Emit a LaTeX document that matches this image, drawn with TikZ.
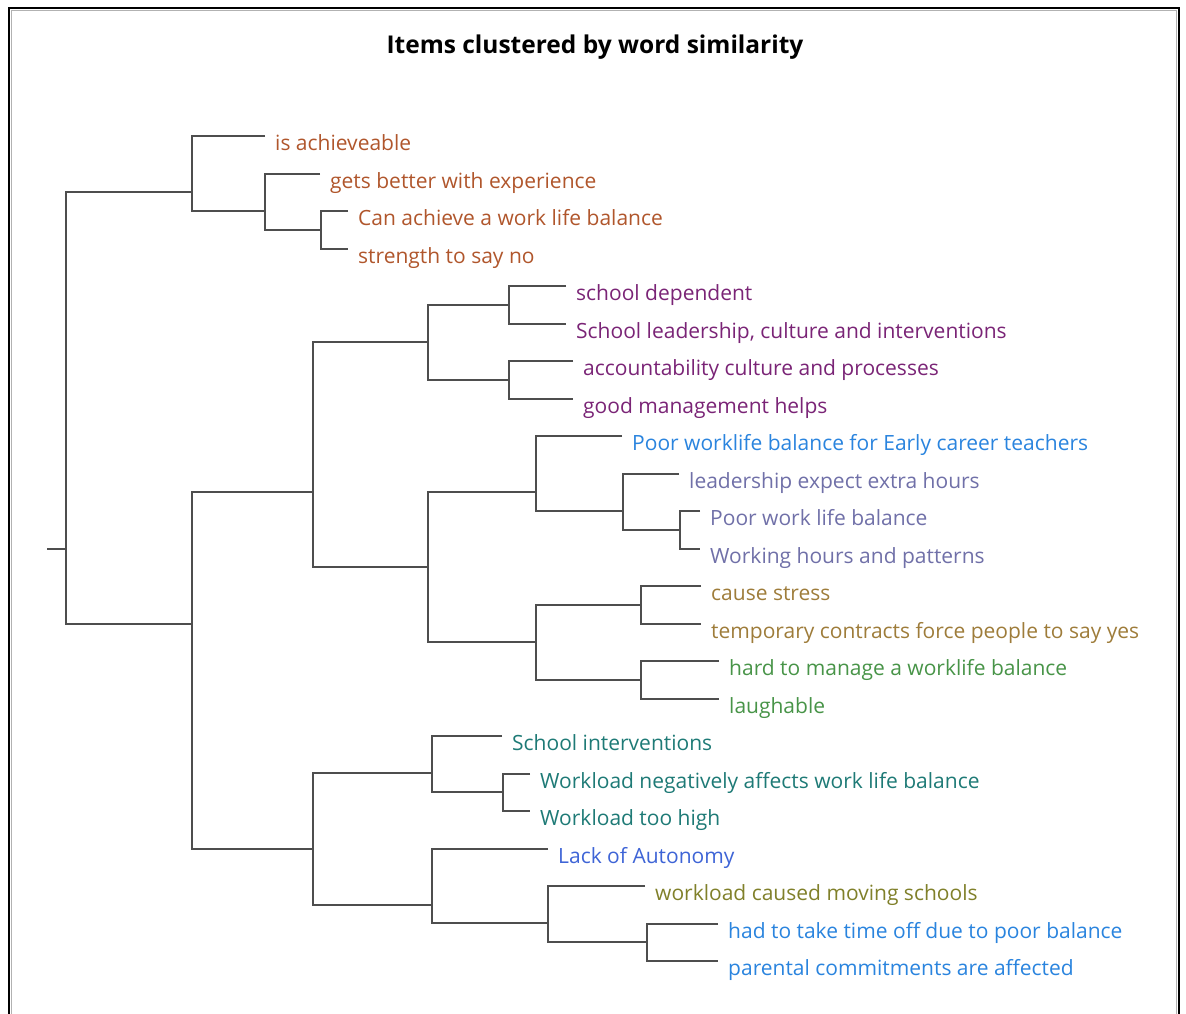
\documentclass[tikz,border=0pt]{standalone}
\usepackage{fontspec}
\setmainfont{Open Sans}
\definecolor{linegray}{RGB}{78,78,78}
\definecolor{cOrange}{RGB}{176,86,44}
\definecolor{cPurple}{RGB}{122,36,118}
\definecolor{cBlue}{RGB}{42,132,222}
\definecolor{cSlate}{RGB}{112,112,168}
\definecolor{cGold}{RGB}{158,124,58}
\definecolor{cGreen}{RGB}{72,148,72}
\definecolor{cTeal}{RGB}{30,122,118}
\definecolor{cRoyal}{RGB}{62,100,214}
\definecolor{cOlive}{RGB}{128,128,42}
\tikzset{
  branch/.style={draw=linegray,line width=2.9pt},
  leaftext/.style={anchor=base west,inner sep=0pt,font=\fontsize{21}{24}\selectfont,xshift=10pt,yshift=-14.8pt},
  titletext/.style={inner sep=0pt,font=\fontsize{24.5}{28}\selectfont\bfseries}
}
\begin{document}
\begin{tikzpicture}[x=1pt,y=-1pt]
\useasboundingbox (0,0) rectangle (1186,1014);
% frame
\draw[line width=2pt,black] (9,1014) -- (9,8) -- (1179,8) -- (1179,1014);
\draw[line width=1.2pt,black!30] (11.3,1014) -- (11.3,10.3) -- (1176.7,10.3) -- (1176.7,1014);
% title
\node[titletext] (title) at (595,47) {Items clustered by word similarity};
% leaf end coordinates
\coordinate (l1) at (265,136);
\coordinate (l2) at (320,174);
\coordinate (l3) at (348,211);
\coordinate (l4) at (348,249);
\coordinate (l5) at (566,286);
\coordinate (l6) at (566,324);
\coordinate (l7) at (573,361);
\coordinate (l8) at (573,399);
\coordinate (l9) at (622,436);
\coordinate (l10) at (679,474);
\coordinate (l11) at (700,511);
\coordinate (l12) at (700,549);
\coordinate (l13) at (701,586);
\coordinate (l14) at (701,624);
\coordinate (l15) at (719,661);
\coordinate (l16) at (719,699);
\coordinate (l17) at (502,736);
\coordinate (l18) at (530,774);
\coordinate (l19) at (530,811);
\coordinate (l20) at (548,849);
\coordinate (l21) at (645,886);
\coordinate (l22) at (718,924);
\coordinate (l23) at (718,961);
% internal nodes
\coordinate (n34) at (321,230);
\coordinate (nB) at (265,211);
\coordinate (nA) at (192,192);
\coordinate (n56) at (509,305);
\coordinate (n78) at (509,380);
\coordinate (n58) at (428,342);
\coordinate (n1112) at (680,530);
\coordinate (nG) at (623,511);
\coordinate (nF) at (536,492);
\coordinate (n1314) at (641,605);
\coordinate (n1516) at (641,680);
\coordinate (n1316) at (536,642);
\coordinate (nE) at (428,567);
\coordinate (nD) at (313,492);
\coordinate (n1819) at (503,792);
\coordinate (n1719) at (432,773);
\coordinate (n2223) at (647,942);
\coordinate (n2123) at (548,923);
\coordinate (n2023) at (432,905);
\coordinate (nI) at (313,849);
\coordinate (nC) at (192,624);
\coordinate (root) at (66,549);
\coordinate (stub) at (47,549);
% branches
\draw[branch] (l3) -| (n34) |- (l4);
\draw[branch] (l2) -| (nB) |- (n34);
\draw[branch] (l1) -| (nA) |- (nB);
\draw[branch] (l5) -| (n56) |- (l6);
\draw[branch] (l7) -| (n78) |- (l8);
\draw[branch] (n56) -| (n58) |- (n78);
\draw[branch] (l11) -| (n1112) |- (l12);
\draw[branch] (l10) -| (nG) |- (n1112);
\draw[branch] (l9) -| (nF) |- (nG);
\draw[branch] (l13) -| (n1314) |- (l14);
\draw[branch] (l15) -| (n1516) |- (l16);
\draw[branch] (n1314) -| (n1316) |- (n1516);
\draw[branch] (nF) -| (nE) |- (n1316);
\draw[branch] (n58) -| (nD) |- (nE);
\draw[branch] (l18) -| (n1819) |- (l19);
\draw[branch] (l17) -| (n1719) |- (n1819);
\draw[branch] (l22) -| (n2223) |- (l23);
\draw[branch] (l21) -| (n2123) |- (n2223);
\draw[branch] (l20) -| (n2023) |- (n2123);
\draw[branch] (n1719) -| (nI) |- (n2023);
\draw[branch] (nD) -| (nC) |- (nI);
\draw[branch] (nA) -| (root) |- (nC);
\draw[branch] (stub) -- (root);
% labels
\node[leaftext,text=cOrange] (t1) at (l1) {is achieveable};
\node[leaftext,text=cOrange] (t2) at (l2) {gets better with experience};
\node[leaftext,text=cOrange] (t3) at (l3) {Can achieve a work life balance};
\node[leaftext,text=cOrange] (t4) at (l4) {strength to say no};
\node[leaftext,text=cPurple] (t5) at (l5) {school dependent};
\node[leaftext,text=cPurple] (t6) at (l6) {School leadership, culture and interventions};
\node[leaftext,text=cPurple] (t7) at (l7) {accountability culture and processes};
\node[leaftext,text=cPurple] (t8) at (l8) {good management helps};
\node[leaftext,text=cBlue] (t9) at (l9) {Poor worklife balance for Early career teachers};
\node[leaftext,text=cSlate] (t10) at (l10) {leadership expect extra hours};
\node[leaftext,text=cSlate] (t11) at (l11) {Poor work life balance};
\node[leaftext,text=cSlate] (t12) at (l12) {Working hours and patterns};
\node[leaftext,text=cGold] (t13) at (l13) {cause stress};
\node[leaftext,text=cGold] (t14) at (l14) {temporary contracts force people to say yes};
\node[leaftext,text=cGreen] (t15) at (l15) {hard to manage a worklife balance};
\node[leaftext,text=cGreen] (t16) at (l16) {laughable};
\node[leaftext,text=cTeal] (t17) at (l17) {School interventions};
\node[leaftext,text=cTeal] (t18) at (l18) {Workload negatively affects work life balance};
\node[leaftext,text=cTeal] (t19) at (l19) {Workload too high};
\node[leaftext,text=cRoyal] (t20) at (l20) {Lack of Autonomy};
\node[leaftext,text=cOlive] (t21) at (l21) {workload caused moving schools};
\node[leaftext,text=cBlue] (t22) at (l22) {had to take time off due to poor balance};
\node[leaftext,text=cBlue] (t23) at (l23) {parental commitments are affected};
\end{tikzpicture}
\end{document}
